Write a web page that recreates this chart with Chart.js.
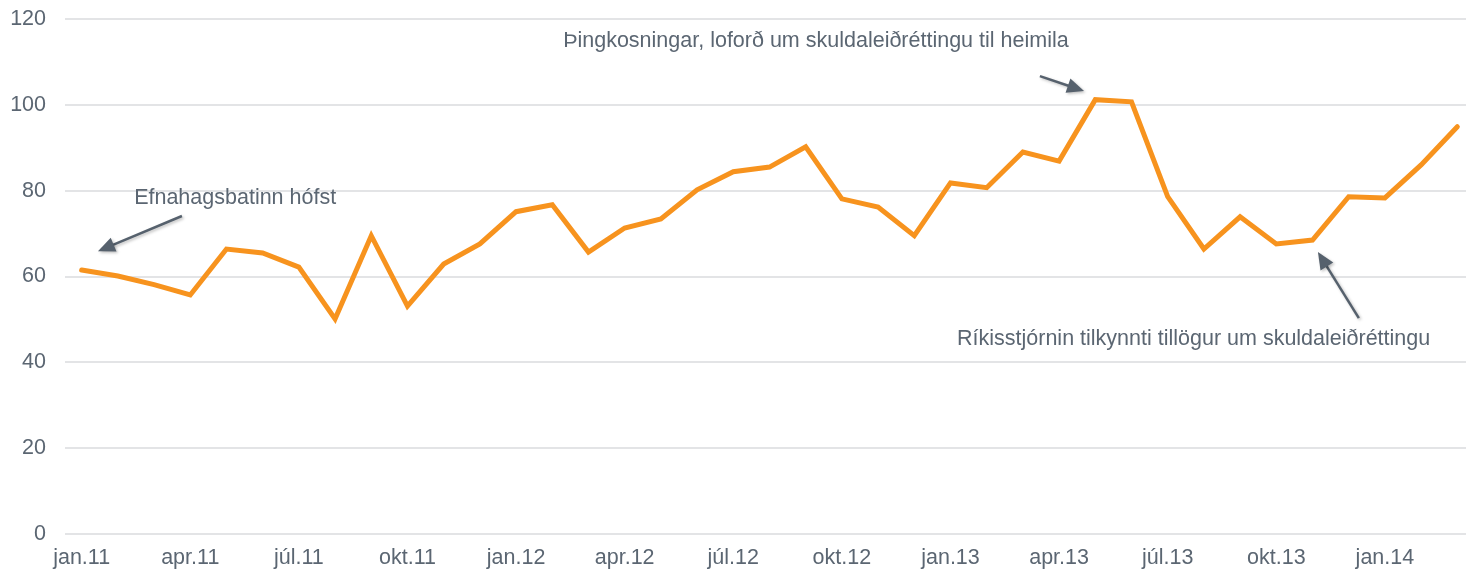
<!DOCTYPE html>
<html>
<head>
<meta charset="utf-8">
<script src="https://cdn.jsdelivr.net/npm/chart.js@4/dist/chart.umd.min.js"></script>
<style>
html,body{margin:0;padding:0;background:#fff;}
#wrap{width:1466px;height:571px;position:relative;}
</style>
</head>
<body>
<div id="wrap"><canvas id="c" width="1466" height="571"></canvas></div>
<script>
// Months (jan.11 – mar.14)
const months = ['jan.11','feb.11','mar.11','apr.11','maí.11','jún.11','júl.11','ágú.11','sep.11','okt.11','nóv.11','des.11',
  'jan.12','feb.12','mar.12','apr.12','maí.12','jún.12','júl.12','ágú.12','sep.12','okt.12','nóv.12','des.12',
  'jan.13','feb.13','mar.13','apr.13','maí.13','jún.13','júl.13','ágú.13','sep.13','okt.13','nóv.13','des.13',
  'jan.14','feb.14','mar.14'];
const values = [61.5,60.1,58.1,55.7,66.4,65.5,62.2,50.1,69.5,53.1,62.9,67.6,
  75.1,76.7,65.7,71.3,73.4,80.2,84.4,85.5,90.2,78.1,76.2,69.5,
  81.8,80.7,89.0,86.9,101.2,100.7,78.6,66.4,73.9,67.6,68.5,78.6,
  78.3,86.0,94.9];
const yTicks = [0,20,40,60,80,100,120];
// Annotations: text anchored at [monthIndex, value]; arrows from tail to tip in data units
const annotationTexts = [
  {text:'Efnahagsbatinn hófst', at:[1.45,78.3]},
  {text:'Þingkosningar, loforð um skuldaleiðréttingu til heimila', at:[13.3,114.9]},
  {text:'Ríkisstjórnin tilkynnti tillögur um skuldaleiðréttingu', at:[24.18,45.4]}
];
const annotationArrows = [
  {from:[2.77,74.1], to:[0.45,65.9]},
  {from:[26.47,106.7], to:[27.69,103.2]},
  {from:[35.28,50.3], to:[34.15,65.7]}
];

const FONT = 'Liberation Sans, Arial, sans-serif';
const FS = 21.5;
const TXT = '#5b6672';
const ARROW = '#56616d';

const annotPlugin = {
  id:'annot',
  afterDatasetsDraw(chart){
    const ctx = chart.ctx, xs = chart.scales.x, ys = chart.scales.y;
    ctx.save();
    ctx.font = FS + 'px ' + FONT;
    ctx.fillStyle = TXT;
    ctx.textAlign = 'left';
    ctx.textBaseline = 'middle';
    annotationTexts.forEach(a=>{
      ctx.fillText(a.text, xs.getPixelForValue(a.at[0]), ys.getPixelForValue(a.at[1]));
    });
    annotationArrows.forEach(a=>{
      const x1 = xs.getPixelForValue(a.from[0]), y1 = ys.getPixelForValue(a.from[1]);
      const x2 = xs.getPixelForValue(a.to[0]), y2 = ys.getPixelForValue(a.to[1]);
      const ang = Math.atan2(y2-y1, x2-x1);
      const hl = 17, hw = 7.5;
      const bx = x2 - hl*Math.cos(ang), by = y2 - hl*Math.sin(ang);
      ctx.save();
      ctx.shadowColor = 'rgba(0,0,0,0.25)';
      ctx.shadowBlur = 3;
      ctx.shadowOffsetX = 1.5;
      ctx.shadowOffsetY = 1.5;
      ctx.strokeStyle = ARROW;
      ctx.fillStyle = ARROW;
      ctx.lineWidth = 2.5;
      ctx.beginPath();
      ctx.moveTo(x1,y1);
      ctx.lineTo(bx + 2*Math.cos(ang), by + 2*Math.sin(ang));
      ctx.stroke();
      ctx.beginPath();
      ctx.moveTo(x2,y2);
      ctx.lineTo(bx - hw*Math.sin(ang), by + hw*Math.cos(ang));
      ctx.lineTo(bx + hw*Math.sin(ang), by - hw*Math.cos(ang));
      ctx.closePath();
      ctx.fill();
      ctx.restore();
    });
    ctx.restore();
  }
};

new Chart(document.getElementById('c'), {
  type:'line',
  data:{
    datasets:[{
      data: values.map((v,i)=>({x:i, y:v})),
      borderColor:'#F7931E',
      borderWidth:5,
      pointRadius:0,
      pointHoverRadius:0,
      tension:0,
      fill:false,
      borderCapStyle:'round',
      borderJoinStyle:'miter'
    }]
  },
  options:{
    responsive:false,
    animation:false,
    events:[],
    layout:{padding:{top:19,right:0,bottom:0,left:0}},
    plugins:{legend:{display:false}, tooltip:{enabled:false}},
    scales:{
      x:{
        type:'linear',
        min:-0.46,
        max:38.24,
        afterBuildTicks(scale){
          scale.ticks = months.map((m,i)=>({value:i})).filter(t=>t.value%3===0);
        },
        ticks:{
          autoSkip:false,
          maxRotation:0,
          padding:11,
          color:TXT,
          font:{family:FONT, size:FS},
          callback:(v)=>months[v]
        },
        grid:{display:false, drawTicks:false},
        border:{display:false},
        afterFit(scale){ scale.height = 37; scale.paddingLeft = 0; scale.paddingRight = 0; }
      },
      y:{
        min:0,
        max:120,
        afterBuildTicks(scale){ scale.ticks = yTicks.map(v=>({value:v})); },
        ticks:{
          padding:19,
          color:TXT,
          font:{family:FONT, size:FS}
        },
        grid:{color:'#e3e4e6', lineWidth:2, drawTicks:false},
        border:{display:false},
        afterFit(scale){ scale.width = 65; scale.paddingTop = 0; scale.paddingBottom = 0; }
      }
    }
  },
  plugins:[annotPlugin]
});
</script>
</body>
</html>
